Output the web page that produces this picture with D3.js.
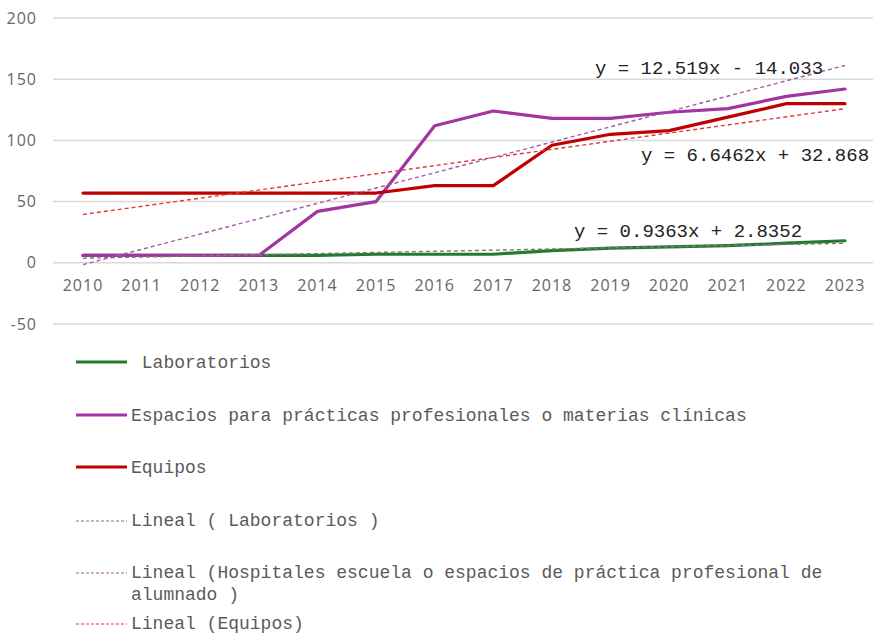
<!DOCTYPE html>
<html>
<head>
<meta charset="utf-8">
<script src="https://cdn.jsdelivr.net/npm/d3@7"></script>
<style>
  body { margin: 0; background: #fff; }
  svg { display: block; }
</style>
</head>
<body>
<div id="chart"></div>
<script>
// canvas size
const width = 875;
const height = 635;

// data
const years = [2010, 2011, 2012, 2013, 2014, 2015, 2016, 2017, 2018, 2019, 2020, 2021, 2022, 2023];
const laboratorios = [6, 6, 6, 6, 6, 7, 7, 7, 10, 12, 13, 14, 16, 18];
const espacios = [6, 6, 6, 6, 42, 50, 112, 124, 118, 118, 123, 126, 136, 142];
const equipos = [57, 57, 57, 57, 57, 57, 63, 63, 96, 105, 108, 119, 130, 130];
const yTicks = [-50, 0, 50, 100, 150, 200];

// trend line coefficients (x = 1..14)
const trendLab = {slope: 0.9363, icpt: 2.8352, label: "y = 0.9363x + 2.8352"};
const trendEsp = {slope: 12.519, icpt: -14.033, label: "y = 12.519x - 14.033"};
const trendEqu = {slope: 6.6462, icpt: 32.868, label: "y = 6.6462x + 32.868"};

const series = [
  {name: " Laboratorios", values: laboratorios, color: "#247a2e"},
  {name: "Espacios para prácticas profesionales o materias clínicas", values: espacios, color: "#a2359f"},
  {name: "Equipos", values: equipos, color: "#c00000"}
];
const trends = [
  {name: ["Lineal ( Laboratorios )"], t: trendLab, color: "#7a7a7a", lx: 574, ly: 237},
  {name: ["Lineal (Hospitales escuela o espacios de práctica profesional de", "alumnado )"], t: trendEsp, color: "#a45aa4", lx: 595, ly: 74},
  {name: ["Lineal (Equipos)"], t: trendEqu, color: "#e0393c", lx: 641, ly: 161}
];

const svg = d3.select("#chart")
  .append("svg")
  .attr("width", width)
  .attr("height", height);

const x = d3.scaleLinear().domain([2010, 2023]).range([83, 845]);
const y = d3.scaleLinear().domain([-50, 200]).range([324, 18]);

// gridlines
svg.append("g")
  .selectAll("line")
  .data(yTicks)
  .enter()
  .append("line")
  .attr("x1", 53)
  .attr("x2", 873)
  .attr("y1", d => y(d))
  .attr("y2", d => y(d))
  .attr("stroke", "#d9d9d9")
  .attr("stroke-width", 1.5);

// y tick labels
svg.append("g")
  .selectAll("text")
  .data(yTicks)
  .enter()
  .append("text")
  .attr("x", 37)
  .attr("y", d => y(d))
  .attr("dy", "0.35em")
  .attr("text-anchor", "end")
  .style("font-family", "'Open Sans', sans-serif")
  .style("font-size", "16px")
  .style("letter-spacing", "1px")
  .style("fill", "#666")
  .text(d => d < 0 ? "-" + Math.abs(d) : d);

// x tick labels
svg.append("g")
  .selectAll("text")
  .data(years)
  .enter()
  .append("text")
  .attr("x", d => x(d))
  .attr("y", 285)
  .attr("dy", "0.35em")
  .attr("text-anchor", "middle")
  .style("font-family", "'Open Sans', sans-serif")
  .style("font-size", "16px")
  .style("letter-spacing", "1px")
  .style("fill", "#666")
  .text(d => d);

// series lines
const line = d3.line()
  .x((d, i) => x(years[i]))
  .y(d => y(d));

svg.append("g")
  .selectAll("path")
  .data(series)
  .enter()
  .append("path")
  .attr("d", d => line(d.values))
  .attr("fill", "none")
  .attr("stroke", d => d.color)
  .attr("stroke-width", 3.2)
  .attr("stroke-linejoin", "round")
  .attr("stroke-linecap", "round");

// trend lines
svg.append("g")
  .selectAll("line")
  .data(trends)
  .enter()
  .append("line")
  .attr("x1", x(years[0]))
  .attr("x2", x(years[years.length - 1]))
  .attr("y1", d => y(d.t.slope * 1 + d.t.icpt))
  .attr("y2", d => y(d.t.slope * years.length + d.t.icpt))
  .attr("stroke", d => d.color)
  .attr("stroke-width", 1.4)
  .attr("stroke-dasharray", "4,3");

// trend equations
svg.append("g")
  .selectAll("text")
  .data(trends)
  .enter()
  .append("text")
  .attr("x", d => d.lx)
  .attr("y", d => d.ly)
  .style("font-family", "'Liberation Mono', monospace")
  .style("font-size", "19px")
  .style("fill", "#222")
  .text(d => d.t.label);

// legend
const legendFont = "'Liberation Mono', monospace";
const legendRows = [362, 415, 467];
series.forEach((s, i) => {
  svg.append("line")
    .attr("x1", 76).attr("x2", 127)
    .attr("y1", legendRows[i]).attr("y2", legendRows[i])
    .attr("stroke", s.color)
    .attr("stroke-width", 3.2);
  svg.append("text")
    .attr("x", 131)
    .attr("y", legendRows[i] + 6)
    .attr("xml:space", "preserve")
    .style("white-space", "pre")
    .style("font-family", legendFont)
    .style("font-size", "18px")
    .style("fill", "#5a5a5a")
    .text(s.name);
});

const trendRows = [521, 573, 624];
trends.forEach((t, i) => {
  svg.append("line")
    .attr("x1", 76).attr("x2", 127)
    .attr("y1", trendRows[i]).attr("y2", trendRows[i])
    .attr("stroke", t.color)
    .attr("stroke-width", 1.2)
    .attr("stroke-dasharray", "3,2");
  t.name.forEach((txt, j) => {
    svg.append("text")
      .attr("x", 131)
      .attr("y", trendRows[i] + 5 + j * 22)
      .style("font-family", legendFont)
      .style("font-size", "18px")
      .style("fill", "#5a5a5a")
      .text(txt);
  });
});
</script>
</body>
</html>
